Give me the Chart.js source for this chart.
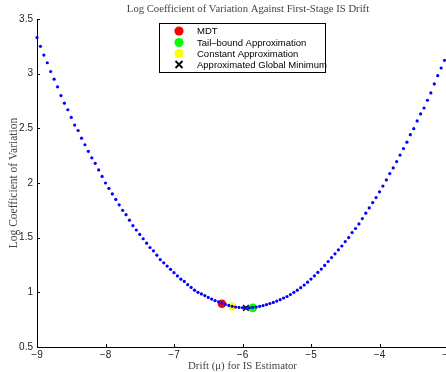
<!DOCTYPE html>
<html>
<head>
<meta charset="utf-8">
<script src="https://cdn.jsdelivr.net/npm/chart.js@4.4.1/dist/chart.umd.min.js"></script>
<style>
  html, body { margin: 0; padding: 0; background: #fff; }
  #wrap { width: 446px; height: 372px; overflow: hidden; position: relative; }
  #cvChart { position: absolute; left: 0; top: 0; }
</style>
</head>
<body>
<div id="wrap"><canvas id="cvChart" width="460" height="372"></canvas></div>
<script>
// drift grid used for the IS estimator (step 0.05)
const driftValues = [
  -9.00, -8.95, -8.90, -8.85, -8.80, -8.75, -8.70, -8.65, -8.60, -8.55,
  -8.50, -8.45, -8.40, -8.35, -8.30, -8.25, -8.20, -8.15, -8.10, -8.05,
  -8.00, -7.95, -7.90, -7.85, -7.80, -7.75, -7.70, -7.65, -7.60, -7.55,
  -7.50, -7.45, -7.40, -7.35, -7.30, -7.25, -7.20, -7.15, -7.10, -7.05,
  -7.00, -6.95, -6.90, -6.85, -6.80, -6.75, -6.70, -6.65, -6.60, -6.55,
  -6.50, -6.45, -6.40, -6.35, -6.30, -6.25, -6.20, -6.15, -6.10, -6.05,
  -6.00, -5.95, -5.90, -5.85, -5.80, -5.75, -5.70, -5.65, -5.60, -5.55,
  -5.50, -5.45, -5.40, -5.35, -5.30, -5.25, -5.20, -5.15, -5.10, -5.05,
  -5.00, -4.95, -4.90, -4.85, -4.80, -4.75, -4.70, -4.65, -4.60, -4.55,
  -4.50, -4.45, -4.40, -4.35, -4.30, -4.25, -4.20, -4.15, -4.10, -4.05,
  -4.00, -3.95, -3.90, -3.85, -3.80, -3.75, -3.70, -3.65, -3.60, -3.55,
  -3.50, -3.45, -3.40, -3.35, -3.30, -3.25, -3.20, -3.15, -3.10, -3.05,
  -3.00
];
// log coefficient of variation at each drift
const logCv = [
  3.33, 3.25, 3.17, 3.10, 3.02, 2.95, 2.88, 2.80, 2.73, 2.67,
  2.60, 2.53, 2.48, 2.41, 2.35, 2.29, 2.23, 2.18, 2.12, 2.06,
  2.00, 1.95, 1.90, 1.85, 1.80, 1.75, 1.71, 1.66, 1.61, 1.57,
  1.53, 1.49, 1.45, 1.41, 1.38, 1.34, 1.30, 1.27, 1.24, 1.21,
  1.18, 1.15, 1.12, 1.10, 1.07, 1.045, 1.02, 1.00, 0.985, 0.97,
  0.953, 0.938, 0.925, 0.913, 0.901, 0.89, 0.88, 0.872, 0.866, 0.862,
  0.859, 0.858, 0.859, 0.862, 0.866, 0.872, 0.879, 0.888, 0.898, 0.908,
  0.92, 0.933, 0.948, 0.962, 0.98, 1.00, 1.02, 1.043, 1.066, 1.093,
  1.121, 1.151, 1.182, 1.213, 1.246, 1.282, 1.318, 1.352, 1.389, 1.424,
  1.464, 1.501, 1.547, 1.584, 1.626, 1.675, 1.724, 1.772, 1.821, 1.867,
  1.919, 1.972, 2.028, 2.086, 2.138, 2.196, 2.255, 2.315, 2.373, 2.442,
  2.497, 2.568, 2.632, 2.686, 2.757, 2.824, 2.906, 2.982, 3.052, 3.122,
  3.196
];

// the four highlighted drifts
const markerNames = ['MDT', 'Tail\u2013bound Approximation', 'Constant Approximation', 'Approximated Global Minimum'];
const markerDrift = [-6.30, -5.85, -6.15, -5.95];
const markerLogCv = [0.895, 0.858, 0.871, 0.857];

const xTickValues = [-9, -8, -7, -6, -5, -4, -3];
const yTickValues = [0.5, 1, 1.5, 2, 2.5, 3, 3.5];

const titleText = 'Log Coefficient of Variation Against First-Stage IS Drift';
const xTitle = 'Drift (\u03bc) for IS Estimator';
const yTitle = 'Log Coefficient of Variation';

const serif = '"Liberation Serif", "DejaVu Serif", serif';
const sans = '"Liberation Sans", Arial, sans-serif';

let curvePoints = driftValues.map((d, i) => ({x: d, y: logCv[i]}));
let markerPoint = (i) => [{x: markerDrift[i], y: markerLogCv[i]}];

let markerSets = [
  {label: markerNames[0], data: markerPoint(0), pointStyle: 'circle', pointRadius: 4.3, backgroundColor: '#ff0000', borderColor: '#ff0000', borderWidth: 0},
  {label: markerNames[1], data: markerPoint(1), pointStyle: 'circle', pointRadius: 4.3, backgroundColor: '#00ff00', borderColor: '#00ff00', borderWidth: 0},
  {label: markerNames[2], data: markerPoint(2), pointStyle: 'circle', pointRadius: 4.3, backgroundColor: '#ffff00', borderColor: '#ffff00', borderWidth: 0},
  {label: markerNames[3], data: markerPoint(3), pointStyle: 'crossRot', pointRadius: 4, backgroundColor: '#000000', borderColor: '#000000', borderWidth: 1.6}
];

// ticks pointing into the plot, title and boxed legend
let decor = {
  id: 'decor',
  afterDatasetsDraw(chart) {
    let {ctx, chartArea: a, scales: {x, y}} = chart;
    ctx.save();
    ctx.strokeStyle = '#000';
    ctx.lineWidth = 1;
    ctx.beginPath();
    x.ticks.forEach(t => {
      let px = Math.round(x.getPixelForValue(t.value)) + 0.5;
      ctx.moveTo(px, a.bottom);
      ctx.lineTo(px, a.bottom - 3);
    });
    y.ticks.forEach(t => {
      let py = Math.round(y.getPixelForValue(t.value)) + 0.5;
      ctx.moveTo(a.left, py);
      ctx.lineTo(a.left + 3, py);
    });
    ctx.stroke();

    // title
    ctx.fillStyle = '#444';
    ctx.font = '10.7px ' + serif;
    ctx.textAlign = 'center';
    ctx.textBaseline = 'middle';
    ctx.fillText(titleText, 248, 9);

    // legend
    ctx.fillStyle = '#fff';
    ctx.fillRect(159.5, 23.5, 166, 49);
    ctx.strokeRect(159.5, 23.5, 166, 49);
    ctx.font = '9.5px ' + sans;
    ctx.textAlign = 'left';
    let rows = [31, 42.5, 53.5, 64.5];
    markerSets.forEach((ds, i) => {
      let cy = rows[i];
      if (ds.pointStyle === 'circle') {
        ctx.fillStyle = ds.backgroundColor;
        ctx.beginPath();
        ctx.arc(179, cy, 4.6, 0, Math.PI * 2);
        ctx.fill();
      } else {
        ctx.strokeStyle = ds.borderColor;
        ctx.lineWidth = 1.8;
        ctx.beginPath();
        ctx.moveTo(175.5, cy - 3.5); ctx.lineTo(182.5, cy + 3.5);
        ctx.moveTo(182.5, cy - 3.5); ctx.lineTo(175.5, cy + 3.5);
        ctx.stroke();
      }
      ctx.fillStyle = '#000';
      ctx.fillText(ds.label, 197, cy + 0.5);
    });
    ctx.restore();
  }
};

let ctxChart = document.getElementById('cvChart').getContext('2d');
let chart = new Chart(ctxChart, {
  type: 'scatter',
  data: {
    datasets: [
      {
        label: 'log CV',
        data: curvePoints,
        showLine: false,
        pointStyle: 'circle',
        pointRadius: 1.6,
        borderWidth: 0,
        backgroundColor: '#0000ff',
        borderColor: '#0000ff',
        clip: false
      },
      ...markerSets.map(d => Object.assign({clip: false}, d))
    ]
  },
  plugins: [decor],
  options: {
    responsive: false,
    animation: false,
    events: [],
    layout: { padding: { left: 0, right: 12, top: 19, bottom: 0 } },
    plugins: { legend: { display: false }, tooltip: { enabled: false }, title: { display: false } },
    scales: {
      x: {
        type: 'linear',
        min: -9,
        max: -3,
        afterBuildTicks: s => { s.ticks = xTickValues.map(v => ({value: v})); },
        afterFit: s => { s.height = 25; },
        ticks: {
          autoSkip: false,
          maxRotation: 0,
          padding: 2,
          color: '#222',
          font: { family: sans, size: 10 },
          callback: v => String(v).replace('-', '\u2212')
        },
        grid: { display: false, drawTicks: false },
        border: { display: true, color: '#000', width: 1 },
        title: {
          display: true,
          text: xTitle,
          color: '#444',
          font: { family: serif, size: 10.8, lineHeight: 1 },
          padding: { top: 0, bottom: 0 }
        }
      },
      y: {
        min: 0.5,
        max: 3.5,
        afterBuildTicks: s => { s.ticks = yTickValues.map(v => ({value: v})); },
        afterFit: s => { s.width = 37; },
        ticks: {
          padding: 4,
          color: '#222',
          font: { family: sans, size: 10 },
          callback: v => String(v)
        },
        grid: { display: false, drawTicks: false },
        border: { display: true, color: '#000', width: 1 },
        title: {
          display: true,
          text: yTitle,
          color: '#444',
          font: { family: serif, size: 11.5, lineHeight: 1.2 },
          padding: { top: 7, bottom: 0 }
        }
      }
    }
  }
});
</script>
</body>
</html>
